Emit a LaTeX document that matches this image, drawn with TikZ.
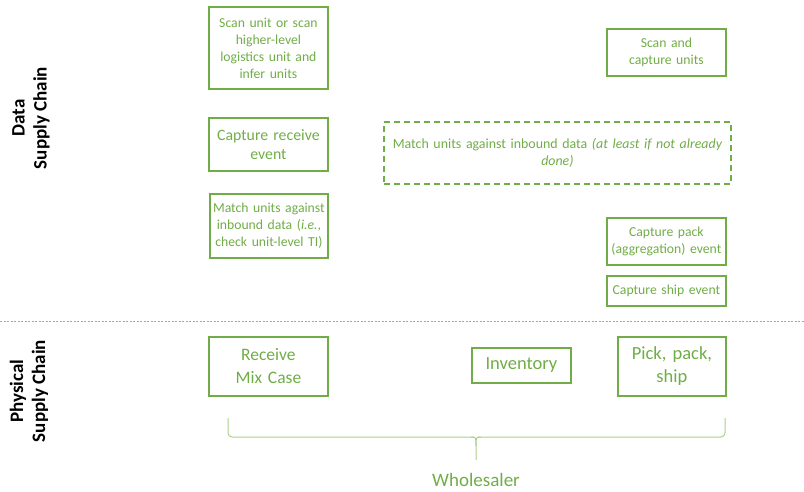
\documentclass[tikz,border=0pt]{standalone}
\usepackage{fontspec}
\setmainfont{Carlito}
\definecolor{leaf}{HTML}{70AD47}
\definecolor{leaflight}{HTML}{A9D18E}
\begin{document}
\begin{tikzpicture}[x=1pt,y=-1pt,
  stepbox/.style={draw=leaf,line width=1.8pt,text=leaf,rectangle,inner sep=0pt,
    align=center,anchor=north west},
  lanelabel/.style={rotate=90,align=center,font=\fontsize{19}{22}\selectfont\bfseries},
]
\useasboundingbox (0,0) rectangle (804,491);

% data supply chain steps
\node[stepbox,minimum width=119pt,minimum height=82pt,text width=117pt,
  font=\fontsize{13.7}{17}\selectfont] (scanunit) at (208,6)
  {Scan unit or scan\\higher-level\\logistics unit and\\infer units};
\node[stepbox,minimum width=119pt,minimum height=53pt,text width=117pt,
  font=\fontsize{15.8}{19}\selectfont] (recvevent) at (208,117)
  {Capture receive\\event};
\node[stepbox,minimum width=118pt,minimum height=64pt,text width=118pt,
  font=\fontsize{13.7}{17}\selectfont] (matchti) at (209,193)
  {Match units against\\inbound data (\textit{i.e.},\\check unit-level TI)};
\node[stepbox,dashed,dash pattern=on 6pt off 4pt,minimum width=347pt,minimum height=62pt,
  text width=345pt,font=\fontsize{13.9}{17}\selectfont] (matchin) at (383,121)
  {Match units against inbound data \textit{(at least if not already\\done)}};
\node[stepbox,minimum width=119pt,minimum height=47pt,text width=117pt,
  font=\fontsize{13.7}{17}\selectfont] (scancap) at (606,28)
  {Scan and\\capture units};
\node[stepbox,minimum width=119pt,minimum height=47pt,text width=119pt,
  font=\fontsize{13.7}{17}\selectfont] (packevent) at (606,217)
  {Capture pack\\(aggregation) event};
\node[stepbox,minimum width=119pt,minimum height=30pt,text width=119pt,
  font=\fontsize{13.7}{17}\selectfont] (shipevent) at (606,275)
  {Capture ship event};

% lane separator
\coordinate (sepL) at (0,321);
\coordinate (sepR) at (804,321);
\draw[gray!70,dashed,dash pattern=on 2pt off 1.5pt,line width=0.8pt] (sepL) -- (sepR);

% physical supply chain steps
\node[stepbox,minimum width=119pt,minimum height=59pt,text width=117pt,
  font=\fontsize{17.5}{23}\selectfont] (receive) at (208,336)
  {Receive\\Mix Case};
\node[stepbox,minimum width=99pt,minimum height=35pt,text width=97pt,
  font=\fontsize{18.5}{20}\selectfont] (inventory) at (471,347)
  {Inventory};
\node[stepbox,minimum width=108pt,minimum height=59pt,text width=106pt,
  font=\fontsize{18.5}{23}\selectfont] (pickship) at (617,336)
  {Pick, pack,\\ship};

% lane labels
\node[lanelabel] (datalane) at (31,118) {Data\\Supply Chain};
\node[lanelabel] (physlane) at (29,391) {Physical\\Supply Chain};

% brace under the physical steps
\draw[leaflight,line width=1pt,rounded corners=4pt]
  (228,418) -- (228,437) -- (474,437);
\draw[leaflight,line width=1pt,rounded corners=4pt]
  (725,418) -- (725,437) -- (478,437);
\draw[leaflight,line width=1pt]
  (471,437) .. controls (476,437) .. (476,446) -- (476,460);
\draw[leaflight,line width=1pt]
  (481,437) .. controls (476,437) .. (476,446);
\node[text=leaf,font=\fontsize{19}{22}\selectfont] (wholesaler) at (476,480) {Wholesaler};
\end{tikzpicture}
\end{document}
